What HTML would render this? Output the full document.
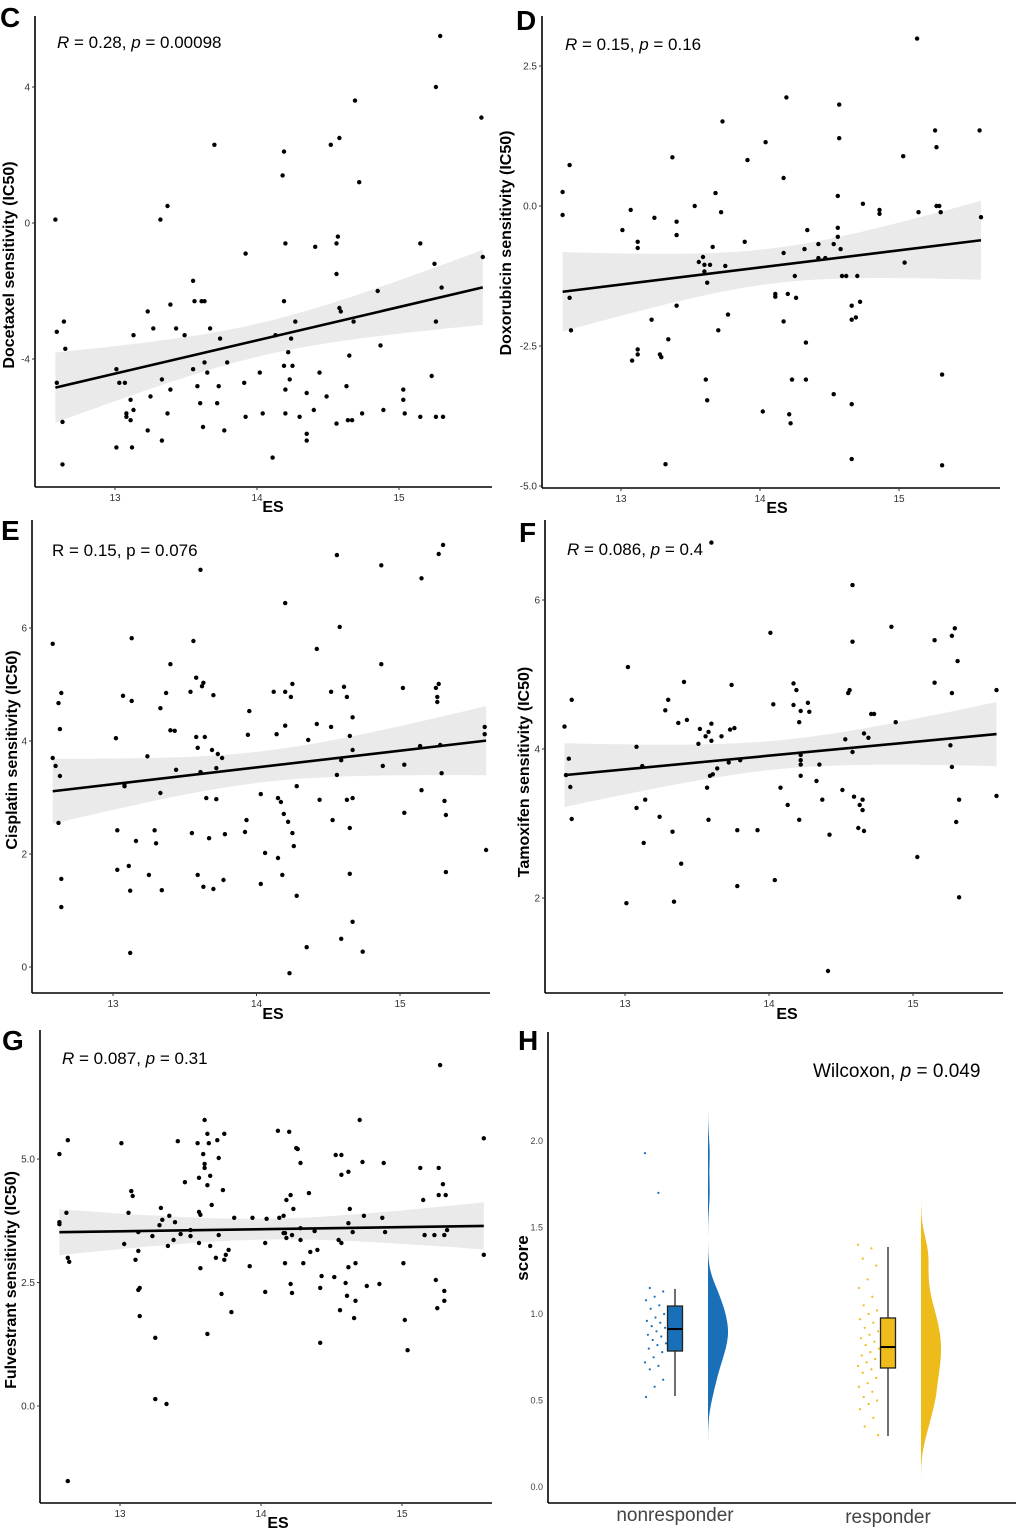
<!DOCTYPE html>
<html><head><meta charset="utf-8">
<style>
html,body{margin:0;padding:0;background:#fff;}
svg{display:block;font-family:"Liberation Sans",Arial,sans-serif;}
</style></head>
<body>
<svg id="fig" width="1020" height="1529" viewBox="0 0 1020 1529" xmlns="http://www.w3.org/2000/svg"></svg>
<script>
// ---------- Data ----------
const xTicks=[13,14,15];
// Panel C Docetaxel
const cES=[12.58,12.59,12.63,12.64,12.65,12.63,12.59,13.01,13.01,13.03,13.07,13.08,13.08,13.12,13.13,13.11,13.11,13.13,13.23,13.25,13.23,13.27,13.32,13.33,13.33,13.37,13.39,13.39,13.37,13.43,13.49,13.55,13.56,13.55,13.58,13.6,13.61,13.63,13.63,13.65,13.62,13.67,13.7,13.72,13.73,13.74,13.77,13.79,13.92,13.91,13.92,14.02,14.04,14.11,14.13,14.18,14.19,14.2,14.19,14.19,14.2,14.2,14.22,14.23,14.24,14.25,14.27,14.3,14.35,14.35,14.35,14.4,14.41,14.44,14.49,14.52,14.56,14.56,14.56,14.57,14.58,14.58,14.59,14.63,14.65,14.64,14.67,14.68,14.69,14.72,14.74,14.85,14.87,14.89,15.03,15.03,15.04,15.15,15.15,15.23,15.25,15.26,15.26,15.26,15.29,15.3,15.31,15.58,15.59];
const cVal=[0.1,-4.7,-5.85,-2.9,-3.7,-7.1,-3.2,-6.6,-4.3,-4.7,-4.7,-5.6,-5.7,-6.6,-3.3,-5.2,-5.8,-5.5,-2.6,-5.1,-6.1,-3.1,0.1,-4.6,-6.4,0.5,-2.4,-4.9,-5.6,-3.1,-3.3,-1.7,-2.3,-4.3,-4.8,-5.3,-2.3,-2.3,-4.1,-4.4,-6.0,-3.1,2.3,-5.3,-4.8,-3.4,-6.1,-4.1,-0.9,-4.7,-5.7,-4.4,-5.6,-6.9,-3.3,1.4,2.1,-0.6,-2.3,-4.2,-4.9,-5.6,-3.8,-4.6,-3.4,-4.2,-2.9,-5.7,-6.4,-6.2,-5.0,-5.5,-0.7,-4.4,-5.1,2.3,-0.6,-1.5,-5.9,-0.4,2.5,-2.5,-2.6,-4.8,-3.9,-5.8,-5.8,-2.9,3.6,1.2,-5.6,-2.0,-3.6,-5.5,-4.9,-5.2,-5.6,-0.6,-5.7,-4.5,-1.2,4.0,-2.9,-5.7,5.5,-1.9,-5.7,3.1,-1.0];
const cYTicks=[4,0,-4];
const cYLabels=["4","0","-4"];
// Panel D Doxorubicin
const dES=[12.58,12.58,12.63,12.63,12.64,13.01,13.07,13.08,13.12,13.12,13.12,13.12,13.22,13.24,13.28,13.29,13.32,13.34,13.37,13.4,13.4,13.4,13.53,13.56,13.59,13.6,13.6,13.61,13.62,13.62,13.64,13.66,13.68,13.7,13.72,13.73,13.75,13.77,13.89,13.91,14.02,14.04,14.11,14.11,14.17,14.17,14.17,14.19,14.2,14.21,14.22,14.23,14.25,14.26,14.32,14.33,14.33,14.34,14.42,14.42,14.47,14.53,14.53,14.56,14.56,14.56,14.57,14.57,14.58,14.59,14.62,14.66,14.66,14.66,14.66,14.69,14.7,14.72,14.74,14.86,14.86,15.03,15.04,15.13,15.14,15.26,15.27,15.27,15.29,15.3,15.31,15.31,15.58,15.59];
const dVal=[0.25,-0.16,0.73,-1.64,-2.22,-0.43,-0.07,-2.76,-0.64,-0.75,-2.56,-2.65,-2.03,-0.21,-2.65,-2.7,-4.61,-2.38,0.87,-1.78,-0.28,-0.52,0.0,-1.0,-0.91,-1.05,-1.17,-3.1,-3.47,-1.37,-1.05,-0.73,0.23,-2.22,-0.11,1.51,-1.07,-1.94,-0.64,0.82,-3.67,1.14,-1.57,-1.62,-2.06,0.5,-0.84,1.94,-1.57,-3.72,-3.88,-3.1,-1.25,-1.64,-0.77,-3.1,-2.44,-0.43,-0.68,-0.93,-0.93,-0.68,-3.36,0.18,-0.39,-0.55,1.81,1.21,-0.77,-1.25,-1.25,-3.54,-4.52,-1.78,-2.03,-1.99,-1.25,-1.71,0.04,-0.07,-0.14,0.89,-1.01,2.99,-0.11,1.35,1.05,0.0,0.0,-0.11,-3.01,-4.63,1.35,-0.2];
const dYTicks=[2.5,0,-2.5,-5];
const dYLabels=["2.5","0.0","-2.5","-5.0"];
// Panel E Cisplatin
const eES=[12.58,12.58,12.6,12.62,12.63,12.63,12.62,12.64,12.64,12.64,13.02,13.03,13.03,13.07,13.08,13.08,13.11,13.12,13.12,13.13,13.13,13.16,13.24,13.25,13.29,13.3,13.33,13.33,13.34,13.37,13.4,13.4,13.43,13.44,13.54,13.55,13.56,13.58,13.58,13.59,13.59,13.61,13.61,13.62,13.63,13.63,13.64,13.65,13.67,13.69,13.7,13.7,13.72,13.72,13.73,13.76,13.77,13.78,13.92,13.93,13.94,13.95,14.03,14.03,14.06,14.12,14.14,14.15,14.15,14.17,14.18,14.19,14.2,14.2,14.2,14.22,14.23,14.24,14.25,14.25,14.26,14.28,14.28,14.35,14.36,14.42,14.42,14.44,14.52,14.52,14.53,14.56,14.56,14.58,14.59,14.59,14.61,14.63,14.63,14.65,14.65,14.65,14.67,14.67,14.67,14.67,14.74,14.87,14.87,14.88,15.02,15.03,15.03,15.14,15.15,15.15,15.25,15.26,15.26,15.27,15.27,15.28,15.29,15.3,15.31,15.32,15.32,15.59,15.59,15.6];
const eVal=[5.72,3.7,3.56,4.67,4.21,3.38,2.55,1.56,1.06,4.85,4.05,2.42,1.72,4.8,3.24,3.2,1.79,1.35,0.25,5.82,4.71,2.23,3.73,1.63,2.42,2.19,3.08,4.58,1.36,4.85,5.36,4.19,4.18,3.49,4.87,2.37,5.77,5.12,4.07,3.88,1.63,3.45,7.03,4.97,5.03,1.42,4.07,2.99,2.28,3.84,1.38,4.81,2.97,3.52,3.77,3.7,1.54,2.35,2.39,2.6,4.11,4.53,3.06,1.47,2.02,4.87,4.12,2.99,1.93,2.92,1.63,2.71,4.87,6.44,4.27,2.57,-0.11,4.78,5.01,2.37,2.14,3.2,1.26,0.35,4.02,5.63,4.3,2.96,4.87,4.25,2.6,3.4,7.29,6.02,0.5,3.66,4.96,2.96,4.78,4.09,2.46,1.65,0.8,2.99,4.42,3.84,0.27,7.11,5.36,3.56,4.94,2.73,3.58,3.91,6.88,3.13,4.94,4.78,4.69,7.31,5.01,3.93,3.43,7.47,2.94,2.69,1.68,4.25,4.12,2.07];
const eYTicks=[6,4,2,0];
const eYLabels=["6","4","2","0"];
// Panel F Tamoxifen
const fES=[12.58,12.59,12.61,12.62,12.63,12.63,13.01,13.02,13.08,13.08,13.12,13.13,13.14,13.24,13.28,13.3,13.33,13.34,13.37,13.39,13.41,13.43,13.51,13.52,13.56,13.57,13.58,13.58,13.59,13.6,13.6,13.61,13.64,13.67,13.72,13.73,13.74,13.76,13.78,13.78,13.8,13.92,14.01,14.03,14.04,14.08,14.13,14.17,14.17,14.19,14.21,14.21,14.22,14.22,14.22,14.22,14.22,14.27,14.28,14.33,14.35,14.37,14.41,14.42,14.51,14.53,14.55,14.56,14.58,14.58,14.58,14.59,14.62,14.63,14.65,14.65,14.66,14.66,14.69,14.71,14.73,14.85,14.88,15.03,15.15,15.15,15.26,15.27,15.27,15.27,15.29,15.3,15.31,15.32,15.32,15.58,15.58,13.6];
const fVal=[4.3,3.65,3.87,3.49,4.66,3.06,1.93,5.1,4.03,3.21,3.77,2.74,3.32,3.09,4.52,4.66,2.89,1.95,4.35,2.46,4.9,4.39,4.07,4.27,4.17,3.48,4.23,3.05,3.64,4.11,4.34,3.66,3.74,4.17,3.82,4.26,4.86,4.28,2.16,2.91,3.85,2.91,5.56,4.6,2.24,3.48,3.25,4.88,4.59,4.79,3.05,4.36,3.85,3.64,3.92,3.79,4.51,4.62,4.5,3.57,3.79,3.32,1.02,2.85,3.45,4.13,4.75,4.79,6.2,5.44,3.96,3.36,2.94,3.25,3.32,3.18,2.9,4.21,4.15,4.47,4.47,5.64,4.36,2.55,5.46,4.89,4.05,5.52,4.75,3.76,5.62,3.02,5.18,3.32,2.01,4.79,3.37,6.77];
const fYTicks=[6,4,2];
const fYLabels=["6","4","2"];
// Panel G Fulvestrant
const gES=[12.57,12.57,12.57,12.62,12.63,12.63,12.64,12.63,13.01,13.03,13.06,13.08,13.09,13.11,13.13,13.13,13.13,13.14,13.14,13.23,13.25,13.25,13.28,13.29,13.3,13.33,13.34,13.35,13.38,13.39,13.41,13.43,13.46,13.5,13.5,13.55,13.56,13.56,13.56,13.57,13.57,13.59,13.6,13.6,13.6,13.62,13.62,13.62,13.63,13.64,13.64,13.65,13.68,13.69,13.7,13.7,13.72,13.73,13.74,13.74,13.75,13.77,13.79,13.81,13.92,13.94,14.03,14.03,14.04,14.12,14.13,14.16,14.16,14.17,14.17,14.18,14.18,14.2,14.21,14.21,14.22,14.22,14.23,14.25,14.26,14.28,14.28,14.28,14.3,14.34,14.35,14.38,14.4,14.42,14.42,14.43,14.52,14.53,14.55,14.56,14.57,14.57,14.57,14.6,14.61,14.62,14.62,14.62,14.63,14.65,14.66,14.67,14.67,14.7,14.72,14.73,14.75,14.84,14.86,14.87,14.88,15.01,15.02,15.04,15.13,15.15,15.16,15.23,15.24,15.25,15.26,15.26,15.27,15.29,15.3,15.3,15.3,15.31,15.32,15.58,15.58];
const gVal=[3.72,3.68,5.1,3.91,5.38,3.0,2.92,-1.52,5.32,3.28,3.91,4.35,4.25,2.96,3.14,3.52,2.35,2.39,1.82,3.44,1.38,0.14,3.66,4.01,3.77,0.04,3.24,3.85,3.36,3.72,5.36,3.48,4.53,3.44,3.56,5.32,3.93,4.62,3.3,3.87,2.79,5.1,4.9,5.79,4.82,1.46,4.47,5.51,5.32,3.24,4.66,4.07,3.0,5.38,3.46,5.02,2.27,4.37,5.51,2.96,3.06,3.16,1.9,3.81,2.83,3.81,2.31,3.3,3.79,5.57,3.81,3.5,3.85,3.5,2.89,3.4,4.17,5.55,2.47,4.27,3.46,2.29,3.99,5.22,5.2,3.36,3.6,4.92,2.89,4.31,3.12,3.54,3.16,1.28,2.39,2.63,2.61,5.08,3.36,1.94,3.3,4.68,5.08,2.49,2.23,2.81,4.74,3.7,3.99,3.52,1.78,2.13,2.89,5.79,4.94,3.85,2.43,2.47,3.81,4.92,3.52,2.89,1.74,1.13,4.82,4.17,3.46,3.46,2.55,1.98,4.82,4.27,6.9,4.49,2.33,3.46,2.13,4.27,3.56,5.42,3.06];
const gYTicks=[5,2.5,0];
const gYLabels=["5.0","2.5","0.0"];
// Panel H score
const hGroups=["nonresponder","responder"];
const hNon=[1.93,1.7,1.15,1.13,1.1,1.08,1.05,1.03,1.0,0.98,0.96,0.95,0.93,0.92,0.9,0.88,0.87,0.85,0.83,0.82,0.8,0.78,0.75,0.72,0.7,0.68,0.62,0.58,0.52];
const hResp=[1.4,1.38,1.32,1.28,1.2,1.15,1.1,1.05,1.02,1.0,0.97,0.95,0.92,0.9,0.88,0.86,0.84,0.82,0.8,0.78,0.76,0.74,0.72,0.7,0.68,0.66,0.63,0.6,0.58,0.55,0.52,0.5,0.48,0.45,0.4,0.35,0.3];
const hQ1=[0.786,0.688];
const hMed=[0.913,0.809];
const hQ3=[1.046,0.977];
const hLo=[0.526,0.295];
const hHi=[1.145,1.387];
const hYTicks=[0,0.5,1,1.5,2];
const hYLabels=["0.0","0.5","1.0","1.5","2.0"];

// ---------- helpers ----------
const svg=document.getElementById('fig');
const NS="http://www.w3.org/2000/svg";
function mk(tag,attrs,parent){const e=document.createElementNS(NS,tag);for(const k in attrs)e.setAttribute(k,attrs[k]);(parent||svg).appendChild(e);return e;}
function lin(d0,p0,d1,p1){return v=>p0+(v-d0)*(p1-p0)/(d1-d0);}

function scatterPanel(o,xs,ys,yTicks,yLabels){
  const g=mk('g',{});
  
  
  const X=lin(13,o.x13,14,o.x14), Y=lin(o.yA,o.pA,o.yB,o.pB);
  const n=xs.length;let mx=0,my=0;xs.forEach((v,i)=>{mx+=v;my+=ys[i];});mx/=n;my/=n;
  let sxx=0,sxy=0;xs.forEach((v,i)=>{sxx+=(v-mx)*(v-mx);sxy+=(v-mx)*(ys[i]-my);});
  const b=sxy/sxx,a=my-b*mx;let sse=0;xs.forEach((v,i)=>{const r=ys[i]-a-b*v;sse+=r*r;});
  const s=Math.sqrt(sse/(n-2)),t=1.98;
  const xmin=Math.min(...xs),xmax=Math.max(...xs);
  let up=[],dn=[];
  for(let k=0;k<=60;k++){const xv=xmin+(xmax-xmin)*k/60;const se=s*Math.sqrt(1/n+(xv-mx)*(xv-mx)/sxx);const yv=a+b*xv;
    up.push(X(xv).toFixed(1)+','+Y(yv+t*se).toFixed(1));dn.unshift(X(xv).toFixed(1)+','+Y(yv-t*se).toFixed(1));}
  const band=mk('polygon',{points:up.concat(dn).join(' '),fill:'#e6e6e6','fill-opacity':'0.85'},g);
  
  
  xs.forEach((v,i)=>{const c=mk('circle',{cx:X(v).toFixed(1),cy:Y(ys[i]).toFixed(1),r:2.2,fill:'#000'},g);
    
    });
  const ln=mk('line',{x1:X(xmin),y1:Y(a+b*xmin),x2:X(xmax),y2:Y(a+b*xmax),stroke:'#000','stroke-width':2.6},g);
  
  
  const ya=mk('line',{x1:o.left,y1:o.top,x2:o.left,y2:o.bottom,stroke:'#000','stroke-width':1.6},g);
  
  
  const xa=mk('line',{x1:o.left,y1:o.bottom,x2:o.right,y2:o.bottom,stroke:'#000','stroke-width':1.6},g);
  
  
  yTicks.forEach((v,i)=>{const y=Y(v);mk('line',{x1:o.left-3,y1:y,x2:o.left,y2:y,stroke:'#333','stroke-width':1},g);
    const tx=mk('text',{x:o.left-5,y:y+3.5,'font-size':10,'text-anchor':'end',fill:'#333'},g);tx.textContent=yLabels[i];
    
    });
  xTicks.forEach(v=>{const x=X(v);mk('line',{x1:x,y1:o.bottom,x2:x,y2:o.bottom+3,stroke:'#333','stroke-width':1},g);
    const tx=mk('text',{x:x,y:o.bottom+14,'font-size':10,'text-anchor':'middle',fill:'#333'},g);tx.textContent=v;
    
    });
  const xt=mk('text',{x:o.esx,y:o.esy,'font-size':16,'font-weight':'bold','text-anchor':'middle'},g);xt.textContent='ES';
  
  
  const yt=mk('text',{x:0,y:0,'font-size':16,'font-weight':'bold','text-anchor':'middle',transform:`translate(${o.ytx},${o.yty}) rotate(-90)`},g);yt.textContent=o.ytitle;
  
  
  const st=mk('text',{x:o.sx,y:o.sy,'font-size':17},g);
  st.innerHTML=o.stat;
  
  
  const pl=mk('text',{x:o.lx,y:o.ly,'font-size':28,'font-weight':'bold'},g);pl.textContent=o.letter;
  
  
}
const I=s=>`<tspan font-style="italic">${s}</tspan>`;
scatterPanel({name:'panel-c-docetaxel',x13:115,x14:257,yA:0,pA:223,yB:4,pB:87,left:35,top:16,bottom:487,right:492,esx:273,esy:512,ytx:14,yty:265,ytitle:'Docetaxel sensitivity (IC50)',sx:57,sy:48,stat:I('R')+' = 0.28, '+I('p')+' = 0.00098',letter:'C',lx:0,ly:27},cES,cVal,cYTicks,cYLabels);
scatterPanel({name:'panel-d-doxorubicin',x13:621,x14:760,yA:0,pA:206,yB:2.5,pB:66,left:542,top:16,bottom:488,right:1000,esx:777,esy:513,ytx:511,yty:243,ytitle:'Doxorubicin sensitivity (IC50)',sx:565,sy:50,stat:I('R')+' = 0.15, '+I('p')+' = 0.16',letter:'D',lx:516,ly:30},dES,dVal,dYTicks,dYLabels);
scatterPanel({name:'panel-e-cisplatin',x13:113,x14:256.5,yA:0,pA:967,yB:6,pB:628,left:32,top:520,bottom:993,right:490,esx:273,esy:1019,ytx:17,yty:750,ytitle:'Cisplatin sensitivity (IC50)',sx:52,sy:556,stat:'R = 0.15, p = 0.076',letter:'E',lx:1,ly:540},eES,eVal,eYTicks,eYLabels);
scatterPanel({name:'panel-f-tamoxifen',x13:625,x14:769,yA:4,pA:749,yB:6,pB:600,left:545,top:520,bottom:993,right:1003,esx:787,esy:1019,ytx:529,yty:772,ytitle:'Tamoxifen sensitivity (IC50)',sx:567,sy:555,stat:I('R')+' = 0.086, '+I('p')+' = 0.4',letter:'F',lx:519,ly:542},fES,fVal,fYTicks,fYLabels);
scatterPanel({name:'panel-g-fulvestrant',x13:120,x14:261,yA:0,pA:1406,yB:5,pB:1159,left:40,top:1030,bottom:1503,right:492,esx:278,esy:1528,ytx:16,yty:1280,ytitle:'Fulvestrant sensitivity (IC50)',sx:62,sy:1064,stat:I('R')+' = 0.087, '+I('p')+' = 0.31',letter:'G',lx:2,ly:1050},gES,gVal,gYTicks,gYLabels);

// ---------- Panel H ----------
(function(){
  const g=mk('g',{});
  
  
  const Y=lin(0,1487,2,1141);
  const centers=[675,888],colors=['#1a70b8','#edbb1a'],sets=[hNon,hResp];
  sets.forEach((arr,gi)=>{
    const cx=centers[gi],col=colors[gi];
    const bw=0.09,mn=Math.min(...arr)-3*bw,mxv=Math.max(...arr)+3*bw;
    const dens=[];const N=120;
    for(let k=0;k<=N;k++){const v=mn+(mxv-mn)*k/N;let d=0;arr.forEach(p=>{const z=(v-p)/bw;d+=Math.exp(-0.5*z*z);});dens.push([v,d]);}
    const dmax=Math.max(...dens.map(d=>d[1]));
    const vx=cx+33;
    let pts=dens.map(([v,d])=>(vx+20*d/dmax).toFixed(1)+','+Y(v).toFixed(1));
    pts.push(vx+','+Y(mxv).toFixed(1));pts.unshift(vx+','+Y(mn).toFixed(1));
    const vi=mk('polygon',{points:pts.join(' '),fill:col},g);
    
    
    arr.forEach((v,i)=>{const off=((i*37)%23)/23*22;const c=mk('circle',{cx:(cx-30+off).toFixed(1),cy:Y(v).toFixed(1),r:1.1,fill:col},g);
      
      });
    mk('line',{x1:cx,y1:Y(hLo[gi]),x2:cx,y2:Y(hHi[gi]),stroke:'#222','stroke-width':1.3},g);
    const bx=mk('rect',{x:cx-7.5,y:Y(hQ3[gi]),width:15,height:Y(hQ1[gi])-Y(hQ3[gi]),fill:col,stroke:'#222','stroke-width':1.3},g);
    
    
    mk('line',{x1:cx-7.5,y1:Y(hMed[gi]),x2:cx+7.5,y2:Y(hMed[gi]),stroke:'#000','stroke-width':2},g);
    const cl=mk('text',{x:cx,y:gi?1523:1521,'font-size':19,'text-anchor':'middle',fill:'#444'},g);cl.textContent=hGroups[gi];
    
    
  });
  const ya=mk('line',{x1:548,y1:1032,x2:548,y2:1503,stroke:'#000','stroke-width':1.6},g);
  
  
  const xa=mk('line',{x1:548,y1:1503,x2:1016,y2:1503,stroke:'#000','stroke-width':1.6},g);
  
  
  hYTicks.forEach((v,i)=>{const tx=mk('text',{x:543,y:Y(v)+3,'font-size':9,'text-anchor':'end',fill:'#444'},g);tx.textContent=hYLabels[i];
    
    });
  const yt=mk('text',{x:0,y:0,'font-size':17,'font-weight':'bold','text-anchor':'middle',transform:'translate(528,1258) rotate(-90)'},g);yt.textContent='score';
  
  
  const st=mk('text',{x:813,y:1077,'font-size':19},g);st.innerHTML='Wilcoxon, '+I('p')+' = 0.049';
  
  
  const pl=mk('text',{x:518,y:1050,'font-size':28,'font-weight':'bold'},g);pl.textContent='H';
  
  
})();
</script>
</body></html>
